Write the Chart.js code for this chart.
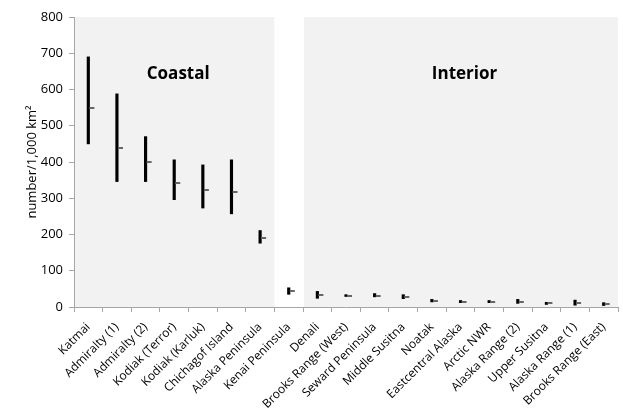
<!DOCTYPE html>
<html>
<head>
<meta charset="utf-8">
<script src="https://cdn.jsdelivr.net/npm/chart.js@4"></script>
<style>
    html, body { margin: 0; padding: 0; background: #ffffff; }
    #wrap { width: 623px; height: 413px; }
</style>
</head>
<body>
<div id="wrap"><canvas id="myChart" width="623" height="413"></canvas></div>
<script>
const areas = ["Katmai", "Admiralty (1)", "Admiralty (2)", "Kodiak (Terror)", "Kodiak (Karluk)",
    "Chichagof Island", "Alaska Peninsula", "Kenai Peninsula", "Denali", "Brooks Range (West)",
    "Seward Peninsula", "Middle Susitna", "Noatak", "Eastcentral Alaska", "Arctic NWR",
    "Alaska Range (2)", "Upper Susitna", "Alaska Range (1)", "Brooks Range (East)"]
const low_values = [450, 346, 346, 296, 273, 257, 176, 35, 24, 29, 28, 23, 14, 12, 12, 10, 7, 5, 4]
const high_values = [690, 588, 470, 406, 392, 406, 211, 53, 43, 34, 37, 34, 21, 18, 18, 21, 13, 19, 12]
const mean_values = [550, 440, 400, 342, 323, 317, 190, 43, 34, 31, 30, 27, 17, 15, 15, 14, 10, 12, 8]
const y_ticks = [0, 100, 200, 300, 400, 500, 600, 700, 800]

const region_names = ["Coastal", "Interior"]
const region_first = ["Katmai", "Denali"]
const region_last = ["Alaska Peninsula", "Brooks Range (East)"]

function make_mean_marker(){
    let c = document.createElement('canvas')
    c.width = 14
    c.height = 2
    let g = c.getContext('2d')
    g.fillStyle = '#666666'
    g.fillRect(8, 0, 5, 2)
    return c
}

const region_plugin = {
    id: 'regions',
    beforeDatasetsDraw(chart){
        let ctx = chart.ctx
        let x = chart.scales.x
        let y = chart.scales.y
        let area = chart.chartArea
        ctx.save()
        region_names.forEach((name, i) => {
            let a = areas.indexOf(region_first[i])
            let b = areas.indexOf(region_last[i])
            let left = x.getPixelForValue(a - 0.5)
            let right = x.getPixelForValue(b + 0.5)
            ctx.fillStyle = '#f2f2f2'
            ctx.fillRect(left + 1, area.top, right - left - 1, area.bottom - area.top)
            ctx.fillStyle = '#000000'
            ctx.font = 'bold 17px "Open Sans", sans-serif'
            ctx.textAlign = 'center'
            ctx.textBaseline = 'middle'
            ctx.fillText(name, (left + right) / 2 + 4, y.getPixelForValue(642))
        })
        ctx.restore()
    }
}

let range_data = low_values.map((v, i) => [v, high_values[i]])

let config = {
    type: 'bar',
    data: {
        labels: areas,
        datasets: [
            {
                label: 'range',
                data: range_data,
                backgroundColor: '#000000',
                barThickness: 2.5,
                order: 2
            },
            {
                type: 'line',
                label: 'mean',
                data: mean_values,
                showLine: false,
                pointStyle: make_mean_marker(),
                pointRadius: 4,
                order: 1
            }
        ]
    },
    options: {
        responsive: false,
        animation: false,
        layout: { padding: { top: 17, right: 2, left: 24, bottom: 0 } },
        plugins: {
            legend: { display: false },
            tooltip: { enabled: false }
        },
        scales: {
            x: {
                grid: { display: true, drawOnChartArea: false, drawTicks: true, tickLength: 5, color: '#a6a6a6', offset: true },
                border: { color: '#a6a6a6', width: 1 },
                ticks: {
                    color: '#000000',
                    autoSkip: false,
                    minRotation: 45,
                    maxRotation: 45,
                    padding: 8,
                    font: { family: 'Open Sans', size: 12 }
                },
                afterFit(scale){ scale.height = 106 }
            },
            y: {
                min: 0,
                max: 800,
                afterBuildTicks(scale){ scale.ticks = y_ticks.map(v => ({ value: v })) },
                grid: { display: true, drawOnChartArea: false, drawTicks: true, tickLength: 5, color: '#a6a6a6' },
                border: { color: '#a6a6a6', width: 1 },
                ticks: {
                    color: '#000000',
                    padding: 6,
                    font: { family: 'Open Sans', size: 13 }
                },
                title: {
                    display: true,
                    text: 'number/1,000 km²',
                    color: '#000000',
                    padding: { top: 0, bottom: 0 },
                    font: { family: 'Open Sans', size: 13 }
                },
                afterFit(scale){ scale.width = 50 }
            }
        }
    },
    plugins: [region_plugin]
}

let mychart = new Chart(document.getElementById('myChart'), config)
</script>
</body>
</html>
